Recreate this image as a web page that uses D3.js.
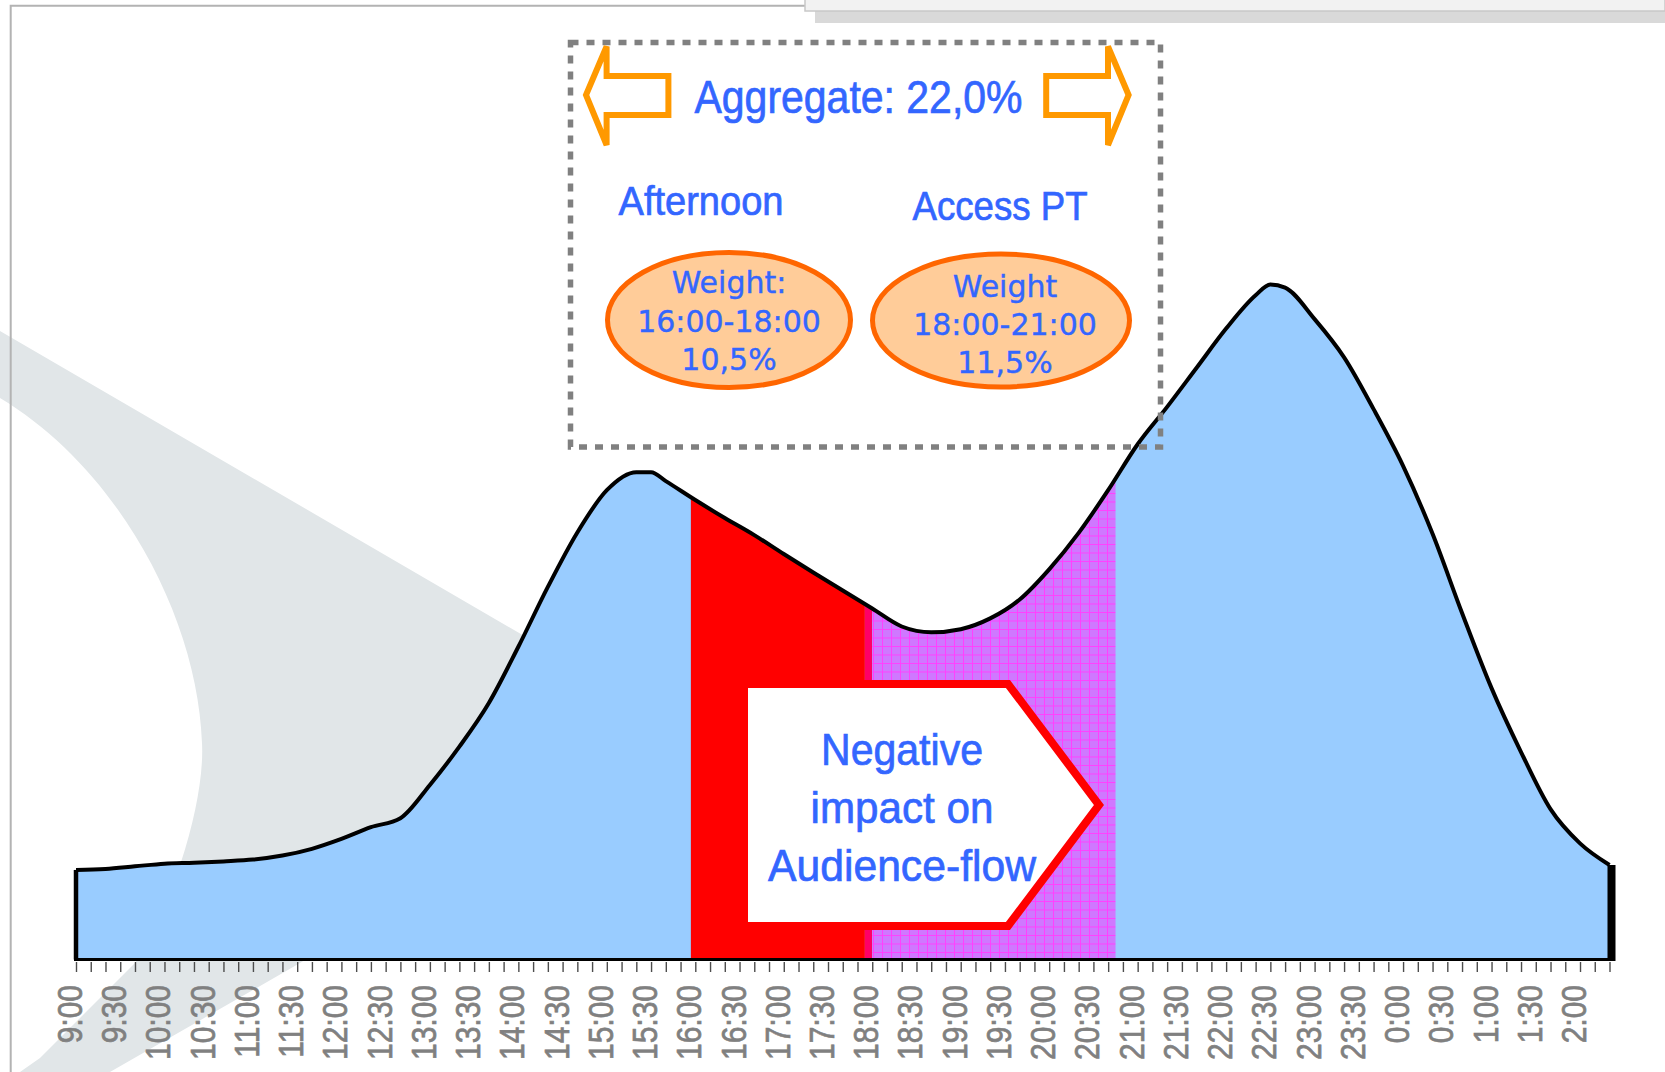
<!DOCTYPE html>
<html lang="en">
<head>
<meta charset="utf-8">
<title>Audience flow</title>
<script src="https://cdnjs.cloudflare.com/ajax/libs/d3/7.8.5/d3.min.js"></script>
<style>
  body { margin: 0; background: #fff; }
  svg { display: block; }
  .narrow { font-family: "Liberation Sans Narrow", "Arial Narrow", "Liberation Sans", Arial, sans-serif; fill: #3366ff; stroke: #3366ff; stroke-width: 0.7px; }
  .oval { font-family: "DejaVu Sans", Verdana, sans-serif; fill: #3366ff; stroke: #3366ff; stroke-width: 0.4px; font-size: 30px; }
  .tlabel { font-family: "Liberation Sans", Arial, sans-serif; fill: #808080; stroke: #808080; stroke-width: 0.6px; font-size: 30px; }
</style>
</head>
<body>
<div id="chart"></div>
<script>
// audience curve (arbitrary rating units)
var slotTimes = ["9:00", "9:20", "9:40", "10:00", "10:20", "10:40", "11:00", "11:20", "11:40",
  "12:00", "12:20", "12:40", "13:00", "13:20", "13:40", "14:00", "14:20", "14:40",
  "15:00", "15:20", "15:30", "15:40", "16:00", "16:20", "16:40", "17:00", "17:20", "17:40",
  "18:00", "18:20", "18:40", "19:00", "19:20", "19:40", "20:00", "20:20", "20:40",
  "21:00", "21:20", "21:40", "22:00", "22:20", "22:30", "22:40", "23:00", "23:20", "23:40",
  "0:00", "0:20", "0:40", "1:00", "1:20", "1:40", "2:00", "2:20"];
var audience = [1.99, 2.01, 2.07, 2.13, 2.15, 2.18, 2.22, 2.31, 2.46,
  2.68, 2.94, 3.14, 3.88, 4.73, 5.70, 6.95, 8.28, 9.49,
  10.43, 10.83, 10.83, 10.63, 10.21, 9.81, 9.43, 9.01, 8.60, 8.20,
  7.80, 7.40, 7.27, 7.34, 7.58, 8.00, 8.67, 9.48, 10.43,
  11.45, 12.28, 13.15, 14.02, 14.76, 15.00, 14.93, 14.23, 13.38, 12.23,
  10.97, 9.46, 7.70, 6.03, 4.61, 3.34, 2.58, 2.10];

var tickLabels = ["9:00", "9:30", "10:00", "10:30", "11:00", "11:30", "12:00", "12:30",
  "13:00", "13:30", "14:00", "14:30", "15:00", "15:30", "16:00", "16:30", "17:00", "17:30",
  "18:00", "18:30", "19:00", "19:30", "20:00", "20:30", "21:00", "21:30", "22:00", "22:30",
  "23:00", "23:30", "0:00", "0:30", "1:00", "1:30", "2:00"];

// highlighted slots: afternoon (red), joint, access prime time (pattern)
var bandStart = ["15:57", "17:55", "18:00"];
var bandEnd = ["17:55", "18:00", "20:45"];

var aggregateText = "Aggregate: 22,0%";
var slotNames = ["Afternoon", "Access PT"];
var ovalLines = [["Weight:", "16:00-18:00", "10,5%"], ["Weight", "18:00-21:00", "11,5%"]];
var calloutLines = ["Negative", "impact on", "Audience-flow"];

var svgWidth = 1665, svgHeight = 1072;

function toMin(s) {
  var p = s.split(":");
  var m = +p[0] * 60 + +p[1];
  return m < 540 ? m + 1440 : m;
}

var data = slotTimes.map(function (t, i) { return { t: toMin(t), v: audience[i] }; });

var svg = d3.select("#chart").append("svg")
  .attr("width", svgWidth)
  .attr("height", svgHeight);

var x = d3.scaleLinear().domain([540, 1580]).range([76, 1609.5]);
var y = d3.scaleLinear().domain([0, 16]).range([959.5, 239.5]);

var defs = svg.append("defs");

// grid pattern for the access slot
var pat = defs.append("pattern")
  .attr("id", "grid")
  .attr("patternUnits", "userSpaceOnUse")
  .attr("width", 9).attr("height", 8.5);
pat.append("rect").attr("width", 9).attr("height", 8.5).attr("fill", "#cf78ff");
pat.append("path").attr("d", "M0,0.5H9M0.5,0V8.5").attr("stroke", "#ff40ff").attr("stroke-width", 1);

var area = d3.area()
  .x(d => x(d.t))
  .y0(y(0))
  .y1(d => y(d.v))
  .curve(d3.curveMonotoneX);

var line = d3.line()
  .x(d => x(d.t))
  .y(d => y(d.v))
  .curve(d3.curveMonotoneX);

defs.append("clipPath").attr("id", "under")
  .append("path").attr("d", area(data));

// watermark swoosh in the background
svg.append("path")
  .attr("d", "M0,331 L600,680 L620,760 L300,963 L110,1072 L20,1072 L40,1058 L135,963 " +
    "C175,900 205,800 202,743 C198,620 120,470 0,398 Z")
  .attr("fill", "#e1e6e8");

// frame lines
svg.append("path")
  .attr("d", "M10.7,1072V5.7H805")
  .attr("fill", "none")
  .attr("stroke", "#b3b3b3")
  .attr("stroke-width", 2);

// top-right tab
svg.append("rect").attr("x", 815).attr("y", 10).attr("width", 860).attr("height", 13).attr("fill", "#d9d9d9");
svg.append("rect").attr("x", 805).attr("y", -2).attr("width", 860).attr("height", 13)
  .attr("fill", "#f2f2f2").attr("stroke", "#c8c8c8").attr("stroke-width", 1.5);

// main area
svg.append("path")
  .attr("d", area(data))
  .attr("fill", "#99ccff");

var bandFill = ["#ff0000", "#ff0066", "url(#grid)"];
svg.append("g")
  .attr("clip-path", "url(#under)")
  .selectAll("rect")
  .data(bandStart)
  .enter()
  .append("rect")
  .attr("x", (d, i) => x(toMin(d)))
  .attr("width", (d, i) => x(toMin(bandEnd[i])) - x(toMin(d)))
  .attr("y", y(16))
  .attr("height", y(0) - y(16))
  .attr("fill", (d, i) => bandFill[i]);

// outline
svg.append("path")
  .attr("d", line(data))
  .attr("fill", "none")
  .attr("stroke", "#000")
  .attr("stroke-width", 4);

svg.append("line")
  .attr("x1", x(540)).attr("x2", x(540))
  .attr("y1", y(data[0].v)).attr("y2", y(0))
  .attr("stroke", "#000").attr("stroke-width", 4.5);

svg.append("line")
  .attr("x1", x(1580) + 2).attr("x2", x(1580) + 2)
  .attr("y1", y(data[data.length - 1].v)).attr("y2", y(0) + 1.5)
  .attr("stroke", "#000").attr("stroke-width", 8);

svg.append("line")
  .attr("x1", x(540) - 2).attr("x2", x(1580) + 5)
  .attr("y1", y(0)).attr("y2", y(0))
  .attr("stroke", "#000").attr("stroke-width", 3);

// ticks every 10 minutes
var tickAxis = d3.axisBottom(x)
  .tickValues(d3.range(540, 1581, 10))
  .tickSize(10)
  .tickFormat("");

var ax = svg.append("g")
  .attr("transform", "translate(0,962)")
  .call(tickAxis);
ax.select(".domain").remove();
ax.selectAll(".tick line").attr("stroke", "#4d4d4d").attr("stroke-width", 1.4);

// rotated time labels
svg.append("g")
  .selectAll("text")
  .data(tickLabels)
  .enter()
  .append("text")
  .attr("class", "tlabel")
  .attr("text-anchor", "end")
  .attr("transform", d => `translate(${x(toMin(d)) + 6},985) rotate(-90) scale(1,1.16)`)
  .text(d => d);

// dotted summary box
svg.append("rect")
  .attr("x", 570.5).attr("y", 42.5)
  .attr("width", 590).attr("height", 404.5)
  .attr("fill", "none")
  .attr("stroke", "#808080")
  .attr("stroke-width", 5.5)
  .attr("stroke-dasharray", "8,8");

// orange outline arrows
var leftArrow = [[586, 95], [606.6, 46.5], [606.6, 76], [668.4, 76], [668.4, 115], [606.6, 115], [606.6, 145]];
var rightArrow = leftArrow.map(p => [1714.6 - p[0], p[1]]);
svg.selectAll(".arrow")
  .data([leftArrow, rightArrow])
  .enter()
  .append("polygon")
  .attr("class", "arrow")
  .attr("points", d => d.map(p => p.join(",")).join(" "))
  .attr("fill", "#fff")
  .attr("stroke", "#ff9900")
  .attr("stroke-width", 6);

svg.append("text")
  .attr("class", "narrow")
  .attr("x", 858.5).attr("y", 113)
  .attr("text-anchor", "middle")
  .attr("font-size", 46)
  .attr("textLength", 328)
  .attr("lengthAdjust", "spacingAndGlyphs")
  .text(aggregateText);

var nameX = [701, 1000], nameY = [215, 220], nameW = [165, 175];
svg.selectAll(".slotname")
  .data(slotNames)
  .enter()
  .append("text")
  .attr("class", "narrow slotname")
  .attr("x", (d, i) => nameX[i]).attr("y", (d, i) => nameY[i])
  .attr("text-anchor", "middle")
  .attr("font-size", 40)
  .attr("textLength", (d, i) => nameW[i])
  .attr("lengthAdjust", "spacingAndGlyphs")
  .text(d => d);

// ovals with weights
var ovalCx = [729, 1001], ovalCy = [320, 320.5], ovalRx = [121.5, 128.5], ovalRy = [67.5, 66.5];
var textCx = [729, 1005], textY0 = [293.3, 296.7];
ovalLines.forEach(function (lines, k) {
  svg.append("ellipse")
    .attr("cx", ovalCx[k]).attr("cy", ovalCy[k])
    .attr("rx", ovalRx[k]).attr("ry", ovalRy[k])
    .attr("fill", "#ffcc99")
    .attr("stroke", "#ff6600")
    .attr("stroke-width", 5);
  svg.append("g").selectAll("text")
    .data(lines)
    .enter()
    .append("text")
    .attr("class", "oval")
    .attr("x", textCx[k])
    .attr("y", (d, i) => textY0[k] + i * 38.3)
    .attr("text-anchor", "middle")
    .text(d => d);
});

// callout arrow box
var callout = [[744, 684], [1008, 684], [1099, 805], [1008, 926], [744, 926]];
svg.append("polygon")
  .attr("points", callout.map(p => p.join(",")).join(" "))
  .attr("fill", "#fff")
  .attr("stroke", "#ff0000")
  .attr("stroke-width", 8);

var calloutW = [162, 183, 268];
svg.append("g").selectAll("text")
  .data(calloutLines)
  .enter()
  .append("text")
  .attr("class", "narrow")
  .attr("x", 902)
  .attr("y", (d, i) => 765 + i * 57.8)
  .attr("text-anchor", "middle")
  .attr("font-size", 45)
  .attr("textLength", (d, i) => calloutW[i])
  .attr("lengthAdjust", "spacingAndGlyphs")
  .text(d => d);
</script>
</body>
</html>
